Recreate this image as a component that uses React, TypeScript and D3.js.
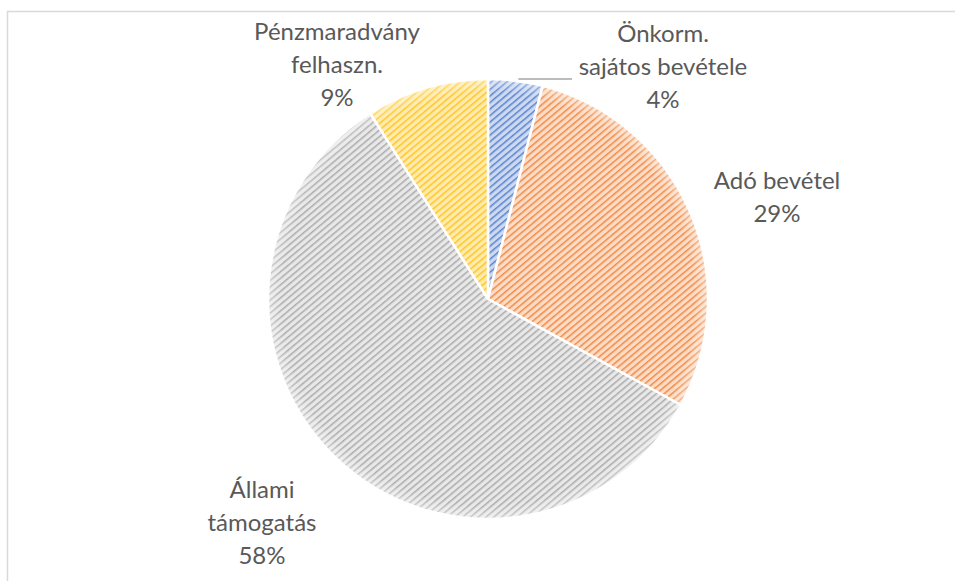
import React, { useEffect, useRef } from 'react';
import * as d3 from 'd3';

const categories = ['Önkorm. sajátos bevétele', 'Adó bevétel', 'Állami támogatás', 'Pénzmaradvány felhaszn.'];
const values = [4, 29, 58, 9];
const labelLines = [
  ['Önkorm.', 'sajátos bevétele', '4%'],
  ['Adó bevétel', '29%'],
  ['Állami', 'támogatás', '58%'],
  ['Pénzmaradvány', 'felhaszn.', '9%'],
];
const lineColors = ['#5B84CC', '#EF8A45', '#ABABAB', '#FFC524'];
const bgColors = ['#CCD9F1', '#FCDCC6', '#E8E8E8', '#FFEBAE'];

export default function App() {
  const svgRef = useRef<SVGSVGElement>(null);

  useEffect(() => {
    if (!svgRef.current) return;
    const svg = d3.select(svgRef.current);
    svg.selectAll('*').remove();

    const cx = 488;
    const cy = 299;
    const radius = 220;

    // frame of the chart area
    svg.append('rect')
      .attr('x', 7.5)
      .attr('y', 11.5)
      .attr('width', 1000)
      .attr('height', 700)
      .attr('fill', '#fff')
      .attr('stroke', '#d9d9d9')
      .attr('stroke-width', 1.5);

    const defs = svg.append('defs');
    lineColors.forEach((c, i) => {
      const p = defs.append('pattern')
        .attr('id', `hatch${i}`)
        .attr('patternUnits', 'userSpaceOnUse')
        .attr('width', 5)
        .attr('height', 5)
        .attr('patternTransform', 'rotate(-40)');
      p.append('rect').attr('width', 5).attr('height', 5).attr('fill', bgColors[i]);
      p.append('rect').attr('x', 0).attr('y', 0).attr('width', 5).attr('height', 1.5).attr('fill', c);
    });

    const rim = defs.append('radialGradient').attr('id', 'rim')
      .attr('cx', 0.5).attr('cy', 0.5).attr('r', 0.5);
    rim.append('stop').attr('offset', '0.94').attr('stop-color', '#fff').attr('stop-opacity', 0);
    rim.append('stop').attr('offset', '1').attr('stop-color', '#fff').attr('stop-opacity', 0.4);

    const pie = d3.pie<number>().sort(null).value(d => d);
    const arcs = pie(values);
    const arc = d3.arc<d3.PieArcDatum<number>>().innerRadius(0).outerRadius(radius);

    const g = svg.append('g').attr('transform', `translate(${cx},${cy})`);
    g.selectAll('path.slice')
      .data(arcs)
      .enter()
      .append('path')
      .attr('class', 'slice')
      .attr('d', arc)
      .attr('fill', (d, i) => `url(#hatch${i})`)
      .attr('stroke', '#fff')
      .attr('stroke-width', 2.5)
      .attr('stroke-linejoin', 'round');

    g.append('circle')
      .attr('r', radius)
      .attr('fill', 'url(#rim)')
      .attr('pointer-events', 'none');

    // leader line for the small slice
    const small = arcs[0];
    const mid = (small.startAngle + small.endAngle) / 2;
    const ly = cy - 220;
    svg.append('path')
      .attr('d', `M${cx + Math.sin(mid) * radius * 0.99 + 3},${ly} H572`)
      .attr('stroke', '#a6a6a6')
      .attr('stroke-width', 1.3)
      .attr('fill', 'none');

    const labelPos: [number, number][] = [
      [663, 42],
      [777, 189],
      [262, 498],
      [337, 40],
    ];
    const lh = 33;
    labelLines.forEach((lines, i) => {
      const t = svg.append('text')
        .attr('text-anchor', 'middle')
        .attr('font-family', 'Lato, "Open Sans", sans-serif')
        .attr('font-size', 24)
        .attr('fill', '#595959');
      lines.forEach((s, j) => {
        t.append('tspan')
          .attr('x', labelPos[i][0])
          .attr('y', labelPos[i][1] + j * lh)
          .text(s);
      });
      t.append('title').text(categories[i]);
    });
  }, []);

  return (
    <svg
      ref={svgRef}
      width={955}
      height={581}
      style={{ position: 'fixed', left: 0, top: 0, display: 'block' }}
    />
  );
}
